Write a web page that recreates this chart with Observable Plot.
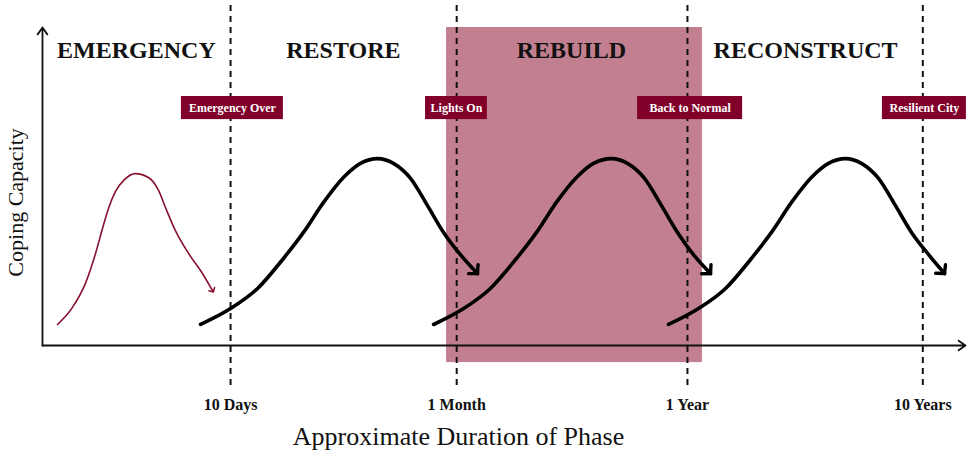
<!DOCTYPE html>
<html>
<head>
<meta charset="utf-8">
<script src="https://cdn.jsdelivr.net/npm/d3@7"></script>
<script src="https://cdn.jsdelivr.net/npm/@observablehq/plot@0.6"></script>
<style>
  html, body { margin: 0; padding: 0; background: #fff; }
</style>
</head>
<body>
<div id="chart"></div>
<script>
// Phase boundaries (x in "phase" units) and their tick labels
const boundaries = [1.01, 1.99, 2.99, 4.01];
const tickLabels = ["10 Days", "1 Month", "1 Year", "10 Years"];

// Phase names and their centres
const phases = ["EMERGENCY", "RESTORE", "REBUILD", "RECONSTRUCT"];
const phaseX = [0.602, 1.499, 2.487, 3.502];
const phaseY = 9.83;

// Milestone badges
const milestones = ["Emergency Over", "Lights On", "Back to Normal", "Resilient City"];
const milestoneX1 = [0.797, 1.855, 2.774, 3.835];
const milestoneX2 = [1.239, 2.123, 3.229, 4.199];
const milestoneY1 = 7.53, milestoneY2 = 8.30;

// Highlighted phase band (REBUILD)
const bandX1 = 1.946, bandX2 = 3.055, bandY1 = -0.57, bandY2 = 10.6;

// Frame (axes) extents
const axisX0 = 0.195, axisXEnd = 4.195, axisYEnd = 10.6;
const ruleY1 = -1.33, ruleY2 = 11.33;

// Coping-capacity curves
const redX = [0.260, 0.325, 0.381, 0.425, 0.455, 0.481, 0.511, 0.550, 0.598, 0.654, 0.698, 0.728, 0.771, 0.828, 0.888, 0.932];
const redY = [0.70, 1.27, 2.07, 3.07, 3.90, 4.57, 5.13, 5.53, 5.73, 5.60, 5.17, 4.60, 3.83, 3.07, 2.40, 1.83];

const c1X = [0.880, 1.010, 1.127, 1.239, 1.326, 1.413, 1.499, 1.573, 1.647, 1.716, 1.790, 1.863, 1.933, 2.006, 2.080];
const c1Y = [0.70, 1.23, 1.90, 2.90, 3.77, 4.77, 5.60, 6.07, 6.23, 6.07, 5.57, 4.67, 3.77, 3.03, 2.40];

const c2X = [1.890, 2.020, 2.136, 2.249, 2.336, 2.422, 2.509, 2.583, 2.661, 2.730, 2.804, 2.877, 2.947, 3.016, 3.090];
const c2Y = [0.70, 1.23, 1.90, 2.90, 3.77, 4.77, 5.60, 6.07, 6.23, 6.07, 5.57, 4.67, 3.77, 3.03, 2.40];

const c3X = [2.908, 3.038, 3.155, 3.267, 3.354, 3.441, 3.527, 3.601, 3.675, 3.744, 3.818, 3.891, 3.961, 4.035, 4.104];
const c3Y = [0.70, 1.23, 1.90, 2.90, 3.77, 4.77, 5.60, 6.07, 6.23, 6.07, 5.57, 4.67, 3.77, 3.03, 2.40];

// Axis titles
const xTitle = "Approximate Duration of Phase";
const yTitle = "Coping Capacity";
const tickLabelY = -1.97;
const xTitlePos = {x: 1.998, y: -3.03};
const yTitlePos = {x: 0.078, y: 4.77};

const toPts = (xs, ys) => xs.map((x, i) => ({x, y: ys[i]}));
const black = [toPts(c1X, c1Y), toPts(c2X, c2Y), toPts(c3X, c3Y)];
const red = toPts(redX, redY);

const serif = "'Liberation Serif', 'Times New Roman', serif";

// Smaller chevron arrowhead for the thick curves
function chevron(color, context) {
  const doc = (context && context.document) || document;
  const ns = "http://www.w3.org/2000/svg";
  const m = doc.createElementNS(ns, "marker");
  m.setAttribute("viewBox", "-10 -10 20 20");
  m.setAttribute("markerWidth", 20);
  m.setAttribute("markerHeight", 20);
  m.setAttribute("markerUnits", "userSpaceOnUse");
  m.setAttribute("orient", "auto");
  m.setAttribute("overflow", "visible");
  const p = doc.createElementNS(ns, "path");
  p.setAttribute("d", "M-6,-6.5L0,0L-6,6.5");
  p.setAttribute("fill", "none");
  p.setAttribute("stroke", color);
  p.setAttribute("stroke-width", 3.4);
  p.setAttribute("stroke-linejoin", "miter");
  m.appendChild(p);
  return m;
}
let blackMarker = chevron;
try { Plot.line([], {x: 0, y: 0, markerEnd: chevron}); } catch (e) { blackMarker = "arrow"; }

const chart = Plot.plot({
  width: 967,
  height: 450,
  margin: 0,
  x: {domain: [0, 4], range: [-3, 920], axis: null},
  y: {domain: [0, 10], range: [345, 45], axis: null},
  style: {fontFamily: serif, background: "#fff", overflow: "visible"},
  marks: [
    Plot.rect([0], {x1: bandX1, x2: bandX2, y1: bandY1, y2: bandY2, fill: "#c17f8f"}),
    Plot.ruleX(boundaries, {x: d => d, y1: ruleY1, y2: ruleY2, stroke: "#111", strokeWidth: 2, strokeDasharray: "6,5"}),
    Plot.arrow([0], {x1: axisX0, y1: 0, x2: axisXEnd, y2: 0, stroke: "#111", strokeWidth: 1.8, headLength: 7, headAngle: 70}),
    Plot.arrow([0], {x1: axisX0, y1: 0, x2: axisX0, y2: axisYEnd, stroke: "#111", strokeWidth: 1.8, headLength: 7, headAngle: 70}),
    Plot.line(red, {x: "x", y: "y", curve: "monotone-x", stroke: "#86122f", strokeWidth: 1.6, markerEnd: "arrow"}),
    ...black.map(pts => Plot.line(pts, {x: "x", y: "y", curve: "monotone-x", stroke: "#000", strokeWidth: 3.6, markerEnd: blackMarker})),
    Plot.text(phases, {x: (d, i) => phaseX[i], y: phaseY, text: d => d, fontSize: 24, fontWeight: "bold", fill: "#111"}),
    Plot.rect(milestones, {x1: (d, i) => milestoneX1[i], x2: (d, i) => milestoneX2[i], y1: milestoneY1, y2: milestoneY2, fill: "#80002a"}),
    Plot.text(milestones, {x: (d, i) => (milestoneX1[i] + milestoneX2[i]) / 2, y: (milestoneY1 + milestoneY2) / 2, text: d => d, fontSize: 12, fontWeight: "bold", fill: "#fff"}),
    Plot.text(tickLabels, {x: (d, i) => boundaries[i], y: tickLabelY, text: d => d, fontSize: 16, fontWeight: "bold", fill: "#111"}),
    Plot.text([xTitle], {x: xTitlePos.x, y: xTitlePos.y, text: d => d, fontSize: 26, fill: "#111"}),
    Plot.text([yTitle], {x: yTitlePos.x, y: yTitlePos.y, text: d => d, fontSize: 22, rotate: -90, fill: "#111"})
  ]
});
document.getElementById("chart").append(chart);
</script>
</body>
</html>
